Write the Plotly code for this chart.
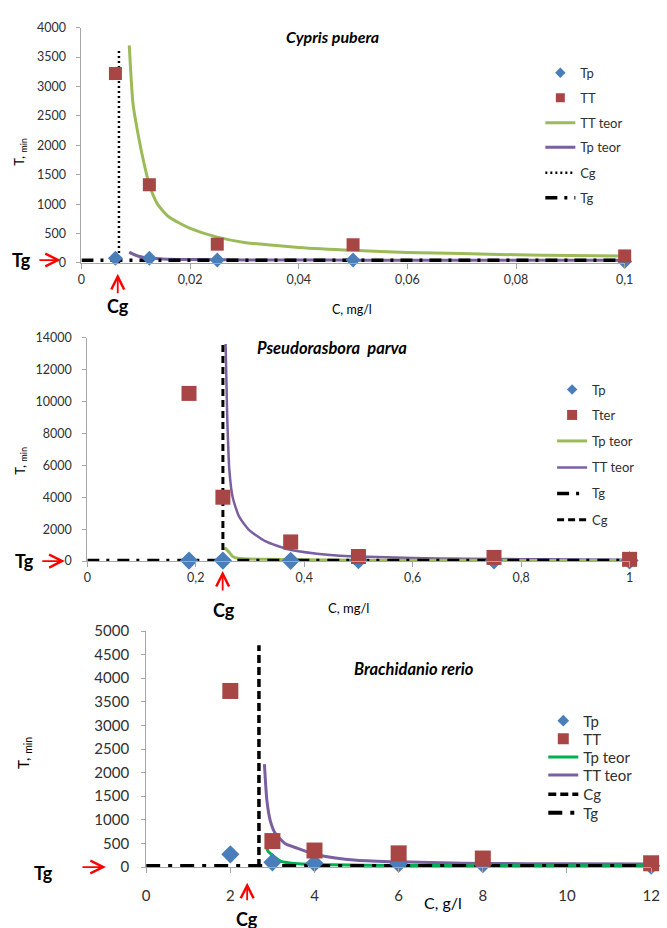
import plotly.graph_objects as go

W, H = 667, 928
FONT = "Lato"

# ---------------- Cypris pubera ----------------
c1_exp = [0.00625, 0.0125, 0.025, 0.05, 0.1]
tp1 = [80, 80, 50, 50, 25]
tt1 = [3220, 1330, 320, 310, 120]
c1_tt_teor = [0.0088, 0.0095, 0.0105, 0.0115, 0.0125, 0.014, 0.016, 0.018, 0.02,
              0.025, 0.03, 0.04, 0.05, 0.06, 0.07, 0.08, 0.09, 0.1]
tt1_teor = [3700, 2700, 2150, 1700, 1330, 1000, 790, 680, 590,
            440, 350, 265, 215, 180, 160, 140, 128, 120]
c1_tp_teor = [0.0088, 0.0095, 0.0105, 0.0115, 0.0125, 0.015, 0.02, 0.025, 0.03,
              0.04, 0.05, 0.06, 0.08, 0.1]
tp1_teor = [185, 150, 115, 95, 85, 70, 60, 56, 53, 50, 48, 47, 46, 45]
cg1 = 0.0069
cg1_top = 3650
tg1 = 45
x1_ticks = [0, 0.02, 0.04, 0.06, 0.08, 0.1]
x1_labels = ["0", "0,02", "0,04", "0,06", "0,08", "0,1"]
y1_ticks = [0, 500, 1000, 1500, 2000, 2500, 3000, 3500, 4000]
y1_labels = ["0", "500", "1000", "1500", "2000", "2500", "3000", "3500", "4000"]

# ---------------- Pseudorasbora parva ----------------
c2_exp = [0.1875, 0.25, 0.375, 0.5, 0.75, 1.0]
tp2 = [30, 30, 20, 60, 50, 40]
tt2 = [10500, 4000, 1200, 290, 230, 110]
c2_tt_teor = [0.255, 0.258, 0.262, 0.268, 0.28, 0.298, 0.328, 0.37, 0.42, 0.46,
              0.5, 0.6, 0.7, 0.8, 0.9, 1.0]
tt2_teor = [13600, 9000, 5650, 4000, 2780, 1960, 1250, 740, 470, 350,
            290, 190, 150, 120, 100, 85]
c2_tp_teor = [0.253, 0.262, 0.268, 0.28, 0.3, 0.33, 0.4, 0.5, 0.6, 0.8, 1.0]
tp2_teor = [840, 530, 290, 165, 130, 110, 80, 60, 50, 45, 40]
cg2 = 0.25
cg2_top = 13600
tg2 = 30
x2_ticks = [0, 0.2, 0.4, 0.6, 0.8, 1.0]
x2_labels = ["0", "0,2", "0,4", "0,6", "0,8", "1"]
y2_ticks = [0, 2000, 4000, 6000, 8000, 10000, 12000, 14000]
y2_labels = ["0", "2000", "4000", "6000", "8000", "10000", "12000", "14000"]

# ---------------- Brachidanio rerio ----------------
c3_exp = [2, 3, 4, 6, 8, 12]
tp3 = [270, 100, 80, 70, 60, 30]
tt3 = [3730, 550, 350, 290, 180, 80]
c3_tt_teor = [2.81, 2.87, 2.95, 3.07, 3.3, 3.6, 4.0, 4.5, 5.0, 6.0, 7.0, 8.0, 10.0, 12.0]
tt3_teor = [2180, 1400, 980, 710, 500, 395, 270, 190, 145, 110, 90, 75, 70, 65]
c3_tp_teor = [2.85, 2.9, 3.0, 3.2, 3.6, 4.4, 6, 8, 10, 12]
tp3_teor = [430, 330, 250, 120, 70, 48, 35, 30, 28, 25]
cg3 = 2.68
cg3_top = 4700
tg3 = 20
x3_ticks = [0, 2, 4, 6, 8, 10, 12]
x3_labels = ["0", "2", "4", "6", "8", "10", "12"]
y3_ticks = [0, 500, 1000, 1500, 2000, 2500, 3000, 3500, 4000, 4500, 5000]
y3_labels = ["0", "500", "1000", "1500", "2000", "2500", "3000", "3500", "4000", "4500", "5000"]

BLUE = "#4A7EBB"
RED = "#A84646"
GREEN = "#9BBB59"
GREEN3 = "#00B050"
PURPLE = "#7A60A0"
AXIS = "#A6A6A6"
TXT = "#303030"


def px(x):
    return x / W


def py(y):
    return 1 - y / H


fig = go.Figure()

# panel definitions: axis suffix, legend left edge (px), legend item centres (px),
# legend font size, legend marker sizes (diamond, square)
panels = [
    dict(ax="", leg_x=547, leg_y=[64, 89.5, 115, 140, 166, 191.5], lf=13, ms=(9, 9)),
    dict(ax="2", leg_x=559, leg_y=[387, 413, 439.5, 466.5, 493, 520], lf=13, ms=(9, 9)),
    dict(ax="3", leg_x=550, leg_y=[725, 743.5, 762, 780.5, 800, 819], lf=15, ms=(10, 10)),
]

legend_counter = [0]
legend_layouts = {}


def new_legend(panel, slot):
    legend_counter[0] += 1
    n = legend_counter[0]
    key = "legend" if n == 1 else f"legend{n}"
    legend_layouts[key] = dict(
        x=px(panel["leg_x"]), y=py(panel["leg_y"][slot]),
        xanchor="left", yanchor="middle",
        bgcolor="rgba(0,0,0,0)", borderwidth=0,
        font=dict(family=FONT, size=panel["lf"], color=TXT),
        itemwidth=30,
    )
    return key


def add(trace, panel, slot):
    trace.update(legend=new_legend(panel, slot), xaxis="x" + panel["ax"],
                 yaxis="y" + panel["ax"])
    fig.add_trace(trace)


def add_points(x, y, symbol, color, size, name, panel, slot, legend_size):
    # data markers
    fig.add_trace(go.Scatter(x=x, y=y, mode="markers", name=name, cliponaxis=False,
                             showlegend=False,
                             xaxis="x" + panel["ax"], yaxis="y" + panel["ax"],
                             marker=dict(symbol=symbol, color=color, size=size,
                                         line=dict(width=0))))
    # legend key with a smaller symbol
    fig.add_trace(go.Scatter(x=[None], y=[None], mode="markers", name=name,
                             legend=new_legend(panel, slot),
                             xaxis="x" + panel["ax"], yaxis="y" + panel["ax"],
                             marker=dict(symbol=symbol, color=color, size=legend_size,
                                         line=dict(width=0))))


def line(x, y, color, width, name, dash=None, shape="spline"):
    return go.Scatter(x=x, y=y, mode="lines", name=name,
                      line=dict(color=color, width=width, dash=dash, shape=shape,
                                smoothing=0.6 if shape == "spline" else None))


# ---- panel 1: Cypris pubera (legend: Tp, TT, TT teor, Tp teor, Cg, Tg)
p = panels[0]
add(line(c1_tt_teor, tt1_teor, GREEN, 3, "TT teor"), p, 2)
add(line(c1_tp_teor, tp1_teor, PURPLE, 3, "Tp teor"), p, 3)
add(line([cg1, cg1], [0, cg1_top], "black", 2.5, "Cg", dash="2px,3px", shape="linear"), p, 4)
add(line([0, x1_ticks[-1]], [tg1, tg1], "black", 3.5, "Tg", dash="12px,7px,3px,7px", shape="linear"), p, 5)
add_points(c1_exp, tp1, "diamond", BLUE, 11.5, "Tp", p, 0, 8)
add_points(c1_exp, tt1, "square", RED, 13, "TT", p, 1, 9)

# ---- panel 2: Pseudorasbora parva (legend: Tp, Tter, Tp teor, TT teor, Tg, Cg)
p = panels[1]
add(line(c2_tt_teor, tt2_teor, PURPLE, 2.5, "TT teor"), p, 3)
add(line(c2_tp_teor, tp2_teor, GREEN, 3, "Tp teor"), p, 2)
add(line([cg2, cg2], [0, cg2_top], "black", 3, "Cg", dash="7px,4px", shape="linear"), p, 5)
add(line([0, x2_ticks[-1]], [tg2, tg2], "black", 3.5, "Tg", dash="12px,7px,3px,8px", shape="linear"), p, 4)
add_points(c2_exp, tp2, "diamond", BLUE, 14, "Tp", p, 0, 8)
add_points(c2_exp, tt2, "square", RED, 15, "Tter", p, 1, 10)

# ---- panel 3: Brachidanio rerio (legend: Tp, TT, Tp teor, TT teor, Cg, Tg)
p = panels[2]
add(line(c3_tt_teor, tt3_teor, PURPLE, 3, "TT teor"), p, 3)
add(line(c3_tp_teor, tp3_teor, GREEN3, 3, "Tp teor"), p, 2)
add(line([cg3, cg3], [0, cg3_top], "black", 3.5, "Cg", dash="8px,4px", shape="linear"), p, 4)
add(line([0, x3_ticks[-1]], [tg3, tg3], "black", 4, "Tg", dash="14px,8px,4px,8px", shape="linear"), p, 5)
add_points(c3_exp, tp3, "diamond", BLUE, 14, "Tp", p, 0, 9)
add_points(c3_exp, tt3, "square", RED, 16, "TT", p, 1, 11)


def xaxis(domain, rng, tv, tt, fs, standoff):
    return dict(domain=domain, range=rng, tickvals=tv, ticktext=tt,
                ticks="outside", ticklen=5, tickcolor=AXIS, tickwidth=1,
                showline=True, linecolor=AXIS, linewidth=1,
                showgrid=False, zeroline=False, fixedrange=True,
                ticklabelstandoff=standoff,
                tickfont=dict(family=FONT, size=fs, color=TXT))


def yaxis(domain, rng, tv, tt, fs, standoff):
    return dict(domain=domain, range=rng, tickvals=tv, ticktext=tt,
                ticks="outside", ticklen=4, tickcolor=AXIS, tickwidth=1,
                showline=True, linecolor=AXIS, linewidth=1,
                showgrid=False, zeroline=False, fixedrange=True,
                ticklabelstandoff=standoff,
                tickfont=dict(family=FONT, size=fs, color=TXT))


layout = dict(
    width=W, height=H, autosize=False,
    margin=dict(l=0, r=0, t=0, b=0),
    paper_bgcolor="white", plot_bgcolor="rgba(0,0,0,0)",
    showlegend=True,
    font=dict(family=FONT, color=TXT),
    xaxis=xaxis([px(79), px(633)], [0, 0.1], x1_ticks, x1_labels, 12.5, 0),
    yaxis=yaxis([py(258), py(18)], [0, 4000], y1_ticks, y1_labels, 12.5, 8),
    xaxis2=xaxis([px(85), px(638)], [0, 1], x2_ticks, x2_labels, 12.5, 0),
    yaxis2=yaxis([py(562), py(334)], [0, 14000], y2_ticks, y2_labels, 12.5, 8),
    xaxis3=xaxis([px(145), px(660)], [0, 12], x3_ticks, x3_labels, 15, 10),
    yaxis3=yaxis([py(874), py(633.3)], [0, 5000], y3_ticks, y3_labels, 15, 9),
)
layout["xaxis"]["anchor"] = "y"
layout["yaxis"]["anchor"] = "x"
layout["xaxis2"]["anchor"] = "y2"
layout["yaxis2"]["anchor"] = "x2"
layout["xaxis3"]["anchor"] = "y3"
layout["yaxis3"]["anchor"] = "x3"
layout.update(legend_layouts)
fig.update_layout(**layout)


def text(x, y, s, size, bold=False, italic=False, angle=0, color="black"):
    if bold:
        s = f"<b>{s}</b>"
    if italic:
        s = f"<i>{s}</i>"
    fig.add_annotation(x=px(x), y=py(y), xref="paper", yref="paper", text=s,
                       showarrow=False, xanchor="center", yanchor="middle",
                       textangle=angle,
                       font=dict(family=FONT, size=size, color=color))


def arrow(x_head, y_head, x_tail, y_tail):
    fig.add_annotation(x=px(x_head), y=py(y_head), xref="paper", yref="paper",
                       ax=x_tail - x_head, ay=y_tail - y_head,
                       axref="pixel", ayref="pixel", text="", showarrow=True,
                       arrowhead=5, arrowsize=1.4, arrowwidth=1.8, arrowcolor="#FF0000")


# titles
text(335, 27, "Cypris pubera", 16, bold=True, italic=True)
text(335, 345, "Pseudorasbora  parva", 16.5, bold=True, italic=True)
text(418, 672, "Brachidanio rerio", 16.5, bold=True, italic=True)

# axis titles
text(355, 305, "C, mg/l", 12.5)
text(351, 610, "C, mg/l", 13)
text(448, 910, "C, g/l", 16)
text(17, 145, "T, <sub>min</sub>", 13, angle=-90)
text(17, 460, "T, <sub>min</sub>", 13, angle=-90)
text(21, 758, "T, <sub>min</sub>", 15, angle=-90)

# Tg / Cg markers
text(18, 255, "Tg", 18, bold=True)
arrow(58, 255, 35, 255)
text(116, 302, "Cg", 18, bold=True)
arrow(116, 269, 116, 290)

text(21, 562, "Tg", 18, bold=True)
arrow(62, 562, 38, 562)
text(224, 612, "Cg", 18, bold=True)
arrow(223, 572, 223, 593)

text(40, 880, "Tg", 18, bold=True)
arrow(104, 874, 79, 874)
text(248, 927, "Cg", 18, bold=True)
arrow(248, 890, 248, 909)

fig.write_html("out.html")
